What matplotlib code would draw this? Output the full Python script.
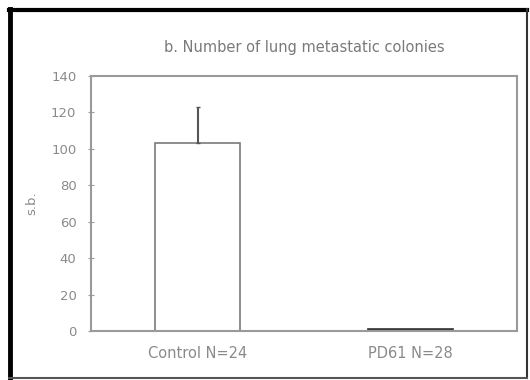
import matplotlib
matplotlib.use("Agg")
import matplotlib.pyplot as plt
from matplotlib.lines import Line2D

categories = ["Control N=24", "PD61 N=28"]
values = [103, 1.2]
err_up = [20, 0]
yticks = [0, 20, 40, 60, 80, 100, 120, 140]
title = "b. Number of lung metastatic colonies"
ylabel = "s.b."

W, H = 530, 380
fig = plt.figure(figsize=(W / 100, H / 100), dpi=100)
fig.patch.set_facecolor("white")

def fx(px):
    return px / W

def fy(py):
    return 1 - py / H

ax = fig.add_axes([fx(91), fy(331), fx(517) - fx(91), fy(76) - fy(331)])

gray = "#9a9a9a"
txt = "#8a8a8a"

x = list(range(len(categories)))
ax.bar(x, values, width=0.4, color=["white", "#444444"],
       edgecolor=["#7a7a7a", "#333333"], linewidth=1.2, zorder=2)
ax.errorbar(x[0], values[0], yerr=[[0], [err_up[0]]], fmt="none",
            ecolor="#555555", elinewidth=1.5, capsize=1.5, capthick=1.0, zorder=3)

ax.set_xlim(-0.5, 1.5)
ax.set_ylim(0, 140)
ax.set_yticks(yticks)
ax.set_yticklabels([str(v) for v in yticks], fontsize=9.5, color=txt)
ax.set_xticks(x)
ax.set_xticklabels(categories, fontsize=10.5, color=txt)
ax.tick_params(axis="y", direction="inout", length=5, width=0.8, color=gray, pad=8)
ax.tick_params(axis="x", length=0, pad=11)
for s in ax.spines.values():
    s.set_color(gray)
    s.set_linewidth(1.5)

ax.set_title(title, fontsize=10.5, color="#7a7a7a", pad=17)
ax.set_ylabel(ylabel, fontsize=9.5, color=txt, labelpad=9)

# outer frame
fig.add_artist(Line2D([fx(9.5), fx(9.5)], [fy(9), fy(378)], color="black", linewidth=3.5, transform=fig.transFigure))
fig.add_artist(Line2D([fx(9), fx(527)], [fy(9.5), fy(9.5)], color="black", linewidth=3, transform=fig.transFigure))
fig.add_artist(Line2D([fx(526.5), fx(526.5)], [fy(9), fy(378)], color="#333333", linewidth=1.5, transform=fig.transFigure))
fig.add_artist(Line2D([fx(9), fx(527)], [fy(377.5), fy(377.5)], color="#555555", linewidth=1.5, transform=fig.transFigure))

fig.savefig("out.png", dpi=100, facecolor="white")
